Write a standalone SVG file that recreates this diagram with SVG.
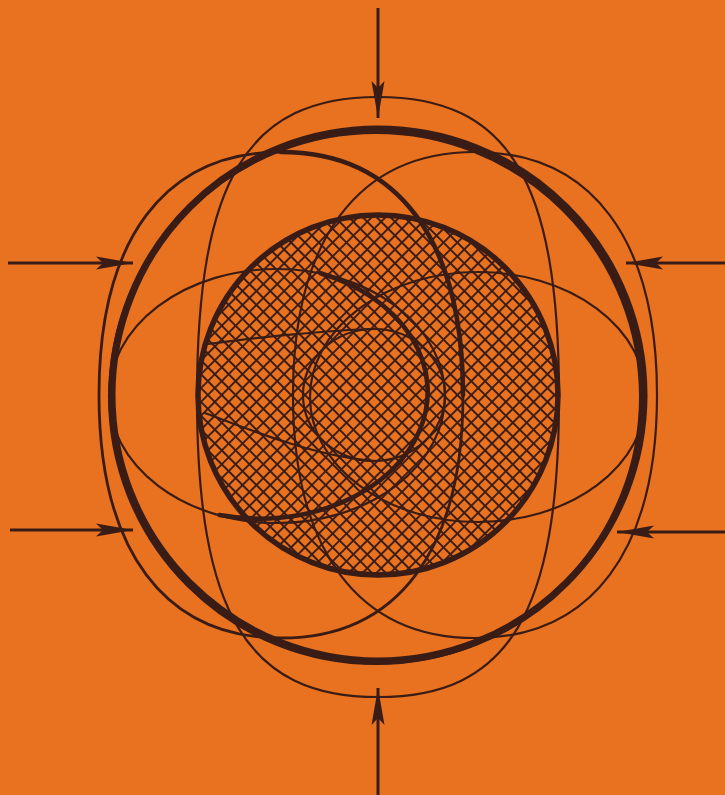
<svg xmlns="http://www.w3.org/2000/svg" width="725" height="795" viewBox="0 0 725 795">
<style>
.ink{fill:none;stroke:#3a1c16;stroke-linecap:round;stroke-linejoin:round}
.thin{stroke-width:2.2}
.mid{stroke-width:2.8}
.bold{stroke-width:4.6}
.heavy{stroke-width:7}
.shaft{stroke:#3a1c16;stroke-width:3;fill:none}
</style>
<defs>
<pattern id="hatch" patternUnits="userSpaceOnUse" width="9.8" height="9.8" patternTransform="rotate(45)">
<path d="M0 4.9H9.8M4.9 0V9.8" stroke="#3a1c16" stroke-width="1.9" fill="none"/>
</pattern>
<marker id="head" viewBox="0 0 42 16" refX="40" refY="8" markerWidth="42" markerHeight="16" markerUnits="userSpaceOnUse" orient="auto">
<path d="M40 8 L3 1.5 L10 8 L3 14.5 Z" fill="#3a1c16"/>
</marker>
</defs>
<rect width="725" height="795" fill="#e8721f"/>
<g id="inner-sphere">
<circle cx="378" cy="395" r="180" fill="url(#hatch)" stroke="none"/>
</g>
<g id="petal-vertical">
<path class="ink thin" d="M378,97 C508.3,97 559,180 559,397 C559,614 508.3,697 378,697 C247.7,697 197,614 197,397 C197,180 247.7,97 378,97Z"/>
</g>
<g id="petal-left">
<path class="ink mid" d="M281,152 C397.5,152 463,239.5 463,395 C463,550.5 397.5,638 281,638 C164.5,638 99,550.5 99,395 C99,239.5 164.5,152 281,152Z"/>
<path class="ink bold" d="M281,152 C397.5,152 463,239.5 463,395"/>
</g>
<g id="petal-right">
<path class="ink thin" d="M475,152 C591.5,152 657,239.5 657,395 C657,550.5 591.5,638 475,638 C358.5,638 293,550.5 293,395 C293,239.5 358.5,152 475,152Z"/>
</g>
<g id="ring-left">
<ellipse class="ink thin" cx="277" cy="396" rx="168" ry="127"/>
<path class="ink bold" d="M320.5,273.3 A168,127 0 0 1 219.5,515"/>
</g>
<g id="ring-right">
<ellipse class="ink thin" cx="478" cy="397" rx="168" ry="125"/>
</g>
<g id="core">
<ellipse class="ink thin" cx="374" cy="395" rx="71" ry="66"/>
<path class="ink thin" d="M208,344 C250,338 330,330 376,329"/>
<path class="ink thin" d="M205,413 C250,430 320,458 376,461"/>
</g>
<g id="inner-circle">
<circle class="ink" cx="378" cy="395" r="180" stroke-width="5.5"/>
</g>
<g id="outer-circle">
<circle class="ink heavy" cx="378" cy="395" r="266"/>
<circle class="ink" cx="376" cy="397" r="265.5" stroke-width="5"/>
</g>
<g id="connectors">
<path class="shaft" d="M378,8 L378,118" marker-end="url(#head)"/>
<path class="shaft" d="M378,795 L378,688" marker-end="url(#head)"/>
<path class="shaft" d="M8,263 L133,263" marker-end="url(#head)"/>
<path class="shaft" d="M10,530 L133,530" marker-end="url(#head)"/>
<path class="shaft" d="M725,263 L626,263" marker-end="url(#head)"/>
<path class="shaft" d="M725,532 L617,532" marker-end="url(#head)"/>
</g>
</svg>
